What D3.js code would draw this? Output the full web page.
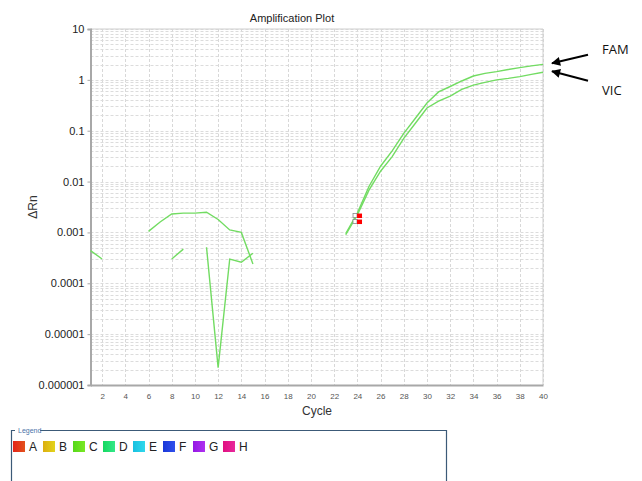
<!DOCTYPE html>
<html>
<head>
<meta charset="utf-8">
<script src="https://cdn.jsdelivr.net/npm/d3@7"></script>
<style>
  body { margin: 0; background: #fff; }
  svg { font-family: Arial, "Liberation Sans", sans-serif; }
</style>
</head>
<body>
<div id="chart"></div>
<script>
// data (null = not drawn, negative dRn)
var cycles = [1,2,3,4,5,6,7,8,9,10,11,12,13,14,15,16,17,18,19,20,
              21,22,23,24,25,26,27,28,29,30,31,32,33,34,35,36,37,38,39,40];
var famValues = [0.00044,0.0003,null,null,null,0.00105,0.0016,0.0023,0.0024,0.0024,
                 0.0025,0.0018,0.00112,0.001,0.00024,null,null,null,null,null,
                 null,null,0.00095,0.0024,0.008,0.02,0.04,0.089,0.176,0.35,
                 0.58,0.74,0.95,1.19,1.34,1.45,1.6,1.74,1.88,2.02];
var vicValues = [null,null,null,null,null,null,null,0.0003,0.00047,null,
                 0.00051,0.0000022,0.0003,0.00026,0.00039,null,null,null,null,null,
                 null,null,0.0009,0.0022,0.0068,0.016,0.031,0.071,0.14,0.28,
                 0.38,0.48,0.65,0.79,0.89,1.0,1.07,1.16,1.28,1.41];
var ctCycles = [24.1, 24.1];
var ctValues = [0.0021, 0.0016];
var yTickValues = [10, 1, 0.1, 0.01, 0.001, 0.0001, 0.00001, 0.000001];
var yTickLabels = ["10","1","0.1","0.01","0.001","0.0001","0.00001","0.000001"];
var xTickValues = [2,4,6,8,10,12,14,16,18,20,22,24,26,28,30,32,34,36,38,40];
var legendNames = ["A","B","C","D","E","F","G","H"];
var legendColors = [["#e3241a","#e3521c"],["#dcae10","#e2d41c"],["#56d81a","#7ae824"],["#14d860","#34e888"],
                    ["#18c0e0","#30d8ec"],["#1a38d8","#3050ec"],["#9418e4","#b030f0"],["#e01080","#e8289c"]];
var seriesNames = ["FAM", "VIC"];

var W = 642, H = 481;
var pLeft = 90.5, pRight = 543, pTop = 29, pBottom = 385;

var svg = d3.select("#chart").append("svg")
  .attr("width", W).attr("height", H);

var x = d3.scaleLinear().domain([1, 40]).range([pLeft, pRight]);
var y = d3.scaleLog().domain([0.000001, 10]).range([pBottom, pTop]);

// grid
var grid = svg.append("g");
grid.selectAll("line.vg")
  .data(xTickValues)
  .enter().append("line")
    .attr("x1", function(d) { return Math.round(x(d)) + 0.5; })
    .attr("x2", function(d) { return Math.round(x(d)) + 0.5; })
    .attr("y1", pTop).attr("y2", pBottom)
    .attr("stroke", "#d8d8d8").attr("stroke-dasharray", "3,2");
grid.selectAll("line.hg")
  .data(y.ticks())
  .enter().append("line")
    .attr("x1", pLeft).attr("x2", pRight)
    .attr("y1", function(d) { return Math.round(y(d)) + 0.5; })
    .attr("y2", function(d) { return Math.round(y(d)) + 0.5; })
    .attr("stroke", "#dcdcdc").attr("stroke-dasharray", "3,2");

// box
svg.append("path")
  .attr("d", "M" + pLeft + "," + pTop + "H" + pRight + "V" + pBottom)
  .attr("fill", "none").attr("stroke", "#cfcfcf");

// axes
var yAxis = svg.append("g")
  .attr("transform", "translate(" + pLeft + ",0)")
  .call(d3.axisLeft(y).tickValues(yTickValues).tickSize(3)
    .tickFormat(function(d, i) { return yTickLabels[i]; }));
yAxis.select(".domain").attr("stroke", "#a8a8a8").attr("stroke-width", 2);
yAxis.selectAll(".tick line").attr("stroke", "#a8a8a8");
yAxis.selectAll(".tick text").attr("font-size", 11).attr("fill", "#222")
  .attr("font-family", "Arial, 'Liberation Sans', sans-serif");

var xAxis = svg.append("g")
  .attr("transform", "translate(0," + pBottom + ")")
  .call(d3.axisBottom(x).tickValues(xTickValues).tickSize(0).tickPadding(8));
xAxis.select(".domain").attr("stroke", "#a8a8a8").attr("stroke-width", 2);
xAxis.selectAll(".tick text").attr("font-size", 8).attr("fill", "#555")
  .attr("font-family", "Arial, 'Liberation Sans', sans-serif");

// titles
svg.append("text").attr("x", 292).attr("y", 22)
  .attr("text-anchor", "middle").attr("font-size", 11).attr("fill", "#222")
  .text("Amplification Plot");
svg.append("text").attr("x", 317).attr("y", 415)
  .attr("text-anchor", "middle").attr("font-size", 12).attr("fill", "#333")
  .text("Cycle");
svg.append("text")
  .attr("transform", "translate(37,207) rotate(-90)")
  .attr("text-anchor", "middle").attr("font-size", 12).attr("fill", "#333")
  .text("ΔRn");

// curves
var line = d3.line()
  .defined(function(d) { return d[1] != null; })
  .x(function(d) { return x(d[0]); })
  .y(function(d) { return y(d[1]); });

[famValues, vicValues].forEach(function(vals) {
  svg.append("path")
    .datum(cycles.map(function(c, i) { return [c, vals[i]]; }))
    .attr("d", line)
    .attr("fill", "none")
    .attr("stroke", "#72dc62")
    .attr("stroke-width", 1.4);
});

// Ct markers
var ct = svg.selectAll("g.ct")
  .data(ctCycles.map(function(c, i) { return [c, ctValues[i]]; }))
  .enter().append("g");
ct.append("rect")
  .attr("x", function(d) { return x(d[0]) - 5.5; })
  .attr("y", function(d) { return y(d[1]) - 2.5; })
  .attr("width", 4).attr("height", 4)
  .attr("fill", "#fff").attr("stroke", "#888").attr("stroke-width", 0.8);
ct.append("rect")
  .attr("x", function(d) { return x(d[0]) - 1.5; })
  .attr("y", function(d) { return y(d[1]) - 2.5; })
  .attr("width", 5).attr("height", 4.5)
  .attr("fill", "#f00");

// arrows and labels
svg.append("defs").append("marker")
  .attr("id", "head").attr("viewBox", "0 0 10 10")
  .attr("refX", 9).attr("refY", 5)
  .attr("markerWidth", 10).attr("markerHeight", 9)
  .attr("markerUnits", "userSpaceOnUse")
  .attr("orient", "auto")
  .append("path").attr("d", "M0,0L10,5L0,10z").attr("fill", "#000");

var ends = [famValues[39], vicValues[39]];
var tailDy = [-8.5, 9.5];
var labelY = [54, 95];
seriesNames.forEach(function(name, i) {
  var tx = x(40) + 9, ty = y(ends[i]) - 1;
  svg.append("line")
    .attr("x1", tx + 36).attr("y1", ty + tailDy[i])
    .attr("x2", tx).attr("y2", ty)
    .attr("stroke", "#000").attr("stroke-width", 2)
    .attr("marker-end", "url(#head)");
  svg.append("text").attr("x", 602).attr("y", labelY[i])
    .attr("font-size", 13).attr("fill", "#111")
    .attr("font-family", "'Open Sans', sans-serif")
    .text(name);
});

// legend box
svg.append("path")
  .attr("d", "M11.5,481V430.5H15 M40,430.5H446.5V481")
  .attr("fill", "none").attr("stroke", "#3c5a78").attr("stroke-width", 1.2);
svg.append("text").attr("x", 18).attr("y", 433)
  .attr("font-size", 7).attr("fill", "#4a72a8").text("Legend");

var defs = svg.select("defs");
legendColors.forEach(function(c, i) {
  var gr = defs.append("linearGradient").attr("id", "lg" + i);
  gr.append("stop").attr("offset", "0%").attr("stop-color", c[0]);
  gr.append("stop").attr("offset", "100%").attr("stop-color", c[1]);
});
var items = svg.selectAll("g.leg")
  .data(legendNames)
  .enter().append("g")
    .attr("transform", function(d, i) { return "translate(" + (13 + i * 30) + ",441)"; });
items.append("rect")
  .attr("width", 12).attr("height", 11)
  .attr("fill", function(d, i) { return "url(#lg" + i + ")"; });
items.append("text")
  .attr("x", 16).attr("y", 10)
  .attr("font-size", 12).attr("fill", "#222")
  .text(function(d) { return d; });
</script>
</body>
</html>
